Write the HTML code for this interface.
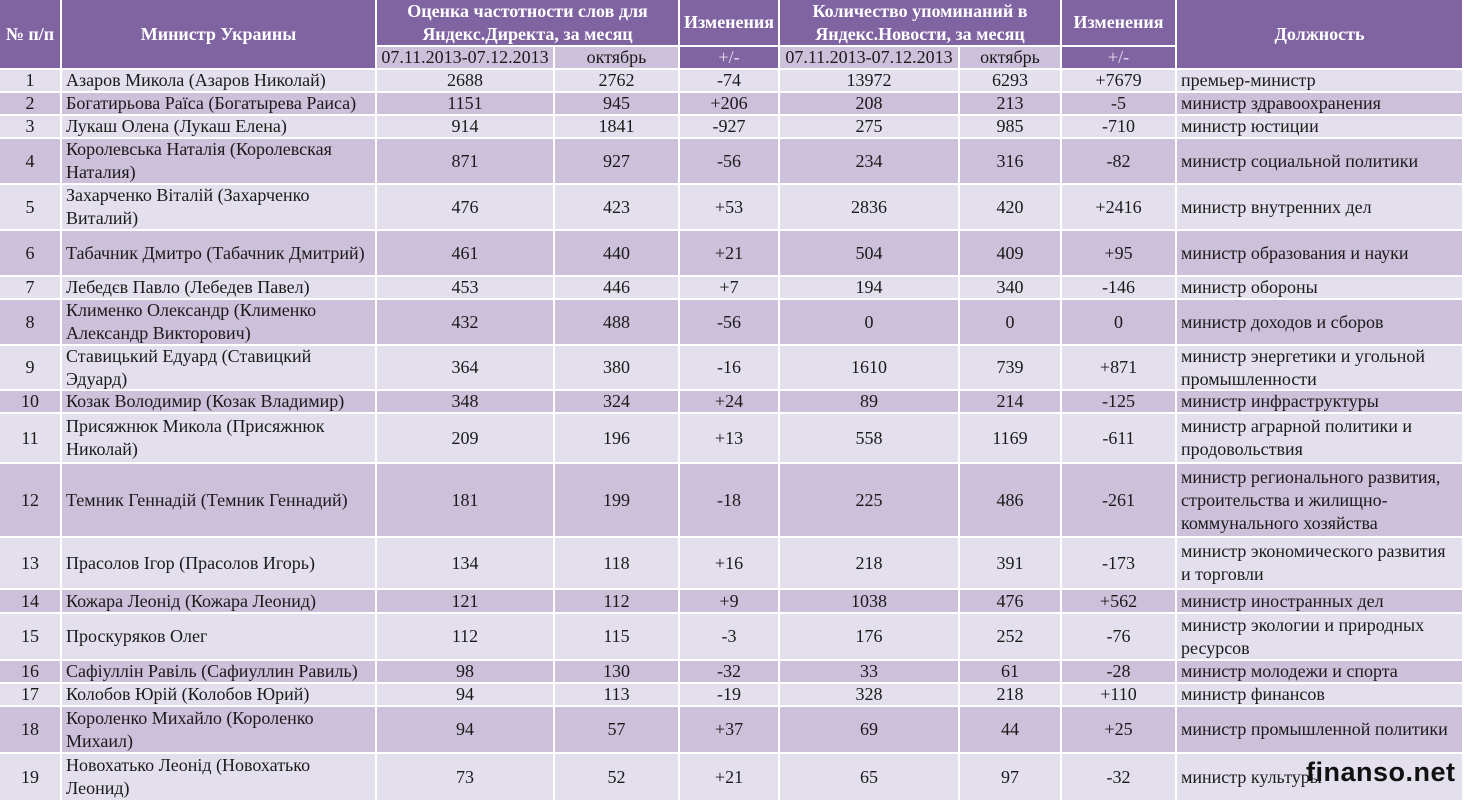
<!DOCTYPE html>
<html><head><meta charset="utf-8"><style>
body{margin:0;width:1464px;height:802px;overflow:hidden;background:#fff;font-family:"Liberation Serif",serif;font-size:18px;color:#1a1a1a}
.g{display:grid;grid-template-columns:62px 315px 178px 125px 100px 180px 102px 115px 287px;
grid-template-rows:47px 23px 23px 23px 23px 46px 46px 46px 23px 46px 45px 23px 50px 74px 52px 24px 47px 23px 23px 47px 48px;width:1464px;height:802px}
.g>div{box-sizing:border-box;border-right:2px solid #fff;border-bottom:2px solid #fff;display:flex;align-items:center;justify-content:center;text-align:center;line-height:23px;overflow:hidden;font-family:"Liberation Serif",serif;font-size:18px}
.h{background:#8064a2;color:#fff;font-weight:bold}
.s{background:#ccc0da}
.p{background:#8064a2;color:#e8e0f0}
.l{justify-content:flex-start!important;text-align:left!important;padding-left:4px;padding-right:8px}
.wm{position:absolute;left:1306px;top:757px;font:bold 27px "Liberation Sans",sans-serif;color:#111;letter-spacing:0.5px}
</style></head><body>
<div class="g" id="g">
<div class="h" style="grid-row:1/3;grid-column:1/2">№ п/п</div>
<div class="h" style="grid-row:1/3;grid-column:2/3">Министр Украины</div>
<div class="h" style="grid-row:1/2;grid-column:3/5">Оценка частотности слов для<br>Яндекс.Директа, за месяц</div>
<div class="h" style="grid-row:1/2;grid-column:5/6">Изменения</div>
<div class="h" style="grid-row:1/2;grid-column:6/8">Количество упоминаний в<br>Яндекс.Новости, за месяц</div>
<div class="h" style="grid-row:1/2;grid-column:8/9">Изменения</div>
<div class="h" style="grid-row:1/3;grid-column:9/10">Должность</div>
<div class="s" style="grid-row:2/3;grid-column:3/4">07.11.2013-07.12.2013</div>
<div class="s" style="grid-row:2/3;grid-column:4/5">октябрь</div>
<div class="p" style="grid-row:2/3;grid-column:5/6">+/-</div>
<div class="s" style="grid-row:2/3;grid-column:6/7">07.11.2013-07.12.2013</div>
<div class="s" style="grid-row:2/3;grid-column:7/8">октябрь</div>
<div class="p" style="grid-row:2/3;grid-column:8/9">+/-</div>
</div>
<div class="wm">finanso.net</div>
<script>
const R=[
["1","Азаров Микола (Азаров Николай)","2688","2762","-74","13972","6293","+7679","премьер-министр"],
["2","Богатирьова Раїса (Богатырева Раиса)","1151","945","+206","208","213","-5","министр здравоохранения"],
["3","Лукаш Олена (Лукаш Елена)","914","1841","-927","275","985","-710","министр юстиции"],
["4","Королевська Наталія (Королевская Наталия)","871","927","-56","234","316","-82","министр социальной политики"],
["5","Захарченко Віталій (Захарченко Виталий)","476","423","+53","2836","420","+2416","министр внутренних дел"],
["6","Табачник Дмитро (Табачник Дмитрий)","461","440","+21","504","409","+95","министр образования и науки"],
["7","Лебедєв Павло (Лебедев Павел)","453","446","+7","194","340","-146","министр обороны"],
["8","Клименко Олександр (Клименко Александр Викторович)","432","488","-56","0","0","0","министр доходов и сборов"],
["9","Ставицький Едуард (Ставицкий Эдуард)","364","380","-16","1610","739","+871","министр энергетики и угольной промышленности"],
["10","Козак Володимир (Козак Владимир)","348","324","+24","89","214","-125","министр инфраструктуры"],
["11","Присяжнюк Микола (Присяжнюк Николай)","209","196","+13","558","1169","-611","министр аграрной политики и продовольствия"],
["12","Темник Геннадій (Темник Геннадий)","181","199","-18","225","486","-261","министр регионального развития, строительства и жилищно-коммунального хозяйства"],
["13","Прасолов Ігор (Прасолов Игорь)","134","118","+16","218","391","-173","министр экономического развития и торговли"],
["14","Кожара Леонід (Кожара Леонид)","121","112","+9","1038","476","+562","министр иностранных дел"],
["15","Проскуряков Олег","112","115","-3","176","252","-76","министр экологии и природных ресурсов"],
["16","Сафіуллін Равіль (Сафиуллин Равиль)","98","130","-32","33","61","-28","министр молодежи и спорта"],
["17","Колобов Юрій (Колобов Юрий)","94","113","-19","328","218","+110","министр финансов"],
["18","Короленко Михайло (Короленко Михаил)","94","57","+37","69","44","+25","министр промышленной политики"],
["19","Новохатько Леонід (Новохатько Леонид)","73","52","+21","65","97","-32","министр культуры"]];
let h="";
R.forEach((r,i)=>{const bg=i%2?"#ccc0da":"#e4dfec";r.forEach((c,j)=>{h+=`<div class="${j==1||j==8?'l':''}" style="grid-row:${i+3}/${i+4};grid-column:${j+1}/${j+2};background:${bg}">${c}</div>`})});
document.getElementById("g").insertAdjacentHTML("beforeend",h);
</script>
</body></html>
